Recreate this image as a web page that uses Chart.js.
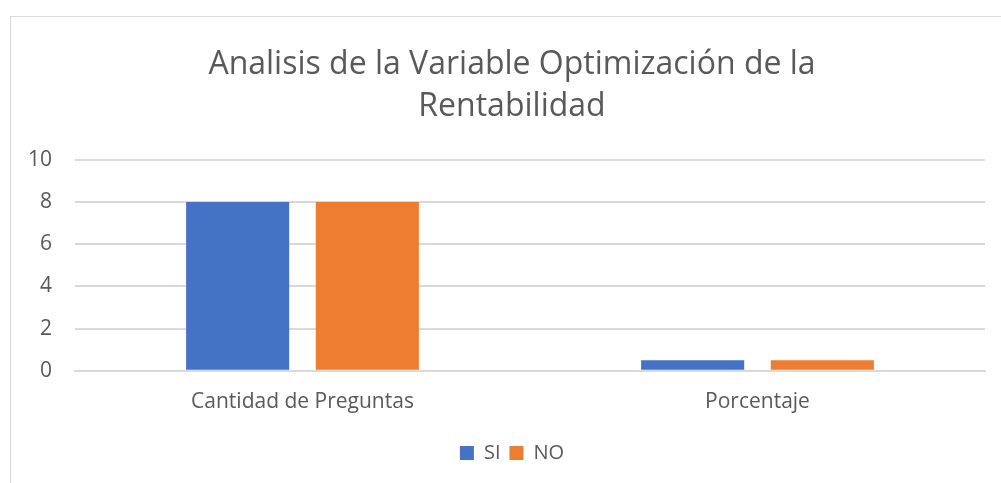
<!DOCTYPE html>
<html>
<head>
<meta charset="utf-8">
<script src="https://cdn.jsdelivr.net/npm/chart.js@4.4.1/dist/chart.umd.min.js"></script>
<style>
    html, body { margin: 0; padding: 0; background: #fff; overflow: hidden; width: 1001px; height: 483px; }
    .frame { position: absolute; left: 10px; top: 16px; width: 1004px; height: 480px; border: 1px solid #d9d9d9; box-sizing: border-box; }
    .frame canvas { position: absolute; left: 0; top: 0; }
</style>
</head>
<body>
<div class="frame"><canvas id="chart" width="1002" height="478"></canvas></div>
<script>
const categories = ["Cantidad de Preguntas", "Porcentaje"];
const siValues = [8, 0.5];
const noValues = [8, 0.5];
const yTicks = [0, 2, 4, 6, 8, 10];

const textColor = "#595959";
const gridColor = "#d9d9d9";
const fontFamily = "'Open Sans', sans-serif";

const ctx = document.getElementById("chart").getContext("2d");

new Chart(ctx, {
    type: "bar",
    data: {
        labels: categories,
        datasets: [
            { label: "SI", data: siValues, backgroundColor: "#4472C4" },
            { label: "NO", data: noValues, backgroundColor: "#ED7D31" }
        ]
    },
    options: {
        responsive: false,
        animation: false,
        layout: { padding: { left: 0, right: 0, top: 26, bottom: 22 } },
        datasets: {
            bar: { categoryPercentage: 0.57, barPercentage: 0.795 }
        },
        plugins: {
            title: {
                display: true,
                text: ["Analisis de la Variable Optimización de la", "Rentabilidad"],
                color: textColor,
                font: { family: fontFamily, size: 32, weight: "normal", lineHeight: 1.34 },
                padding: { top: 0, bottom: 31 }
            },
            legend: {
                position: "bottom",
                labels: {
                    color: textColor,
                    font: { family: fontFamily, size: 20 },
                    boxWidth: 14,
                    boxHeight: 14,
                    padding: 9
                }
            },
            tooltip: { enabled: false }
        },
        scales: {
            x: {
                grid: { display: false, drawTicks: false },
                border: { display: true, color: gridColor, width: 2 },
                ticks: { color: textColor, font: { family: fontFamily, size: 21 }, padding: 19 }
            },
            y: {
                min: 0,
                max: 10,
                afterBuildTicks: axis => { axis.ticks = yTicks.map(v => ({ value: v })); },
                afterFit: axis => { axis.width = 64; },
                grid: { color: gridColor, lineWidth: 2, drawTicks: false },
                border: { display: false },
                ticks: { color: textColor, font: { family: fontFamily, size: 21 }, padding: 23 }
            },
            // empty right gutter so title and legend stay centred on the frame
            gutter: {
                position: "right",
                afterFit: axis => { axis.width = 28; },
                grid: { display: false, drawTicks: false },
                border: { display: false },
                ticks: { display: false }
            }
        }
    }
});
</script>
</body>
</html>
